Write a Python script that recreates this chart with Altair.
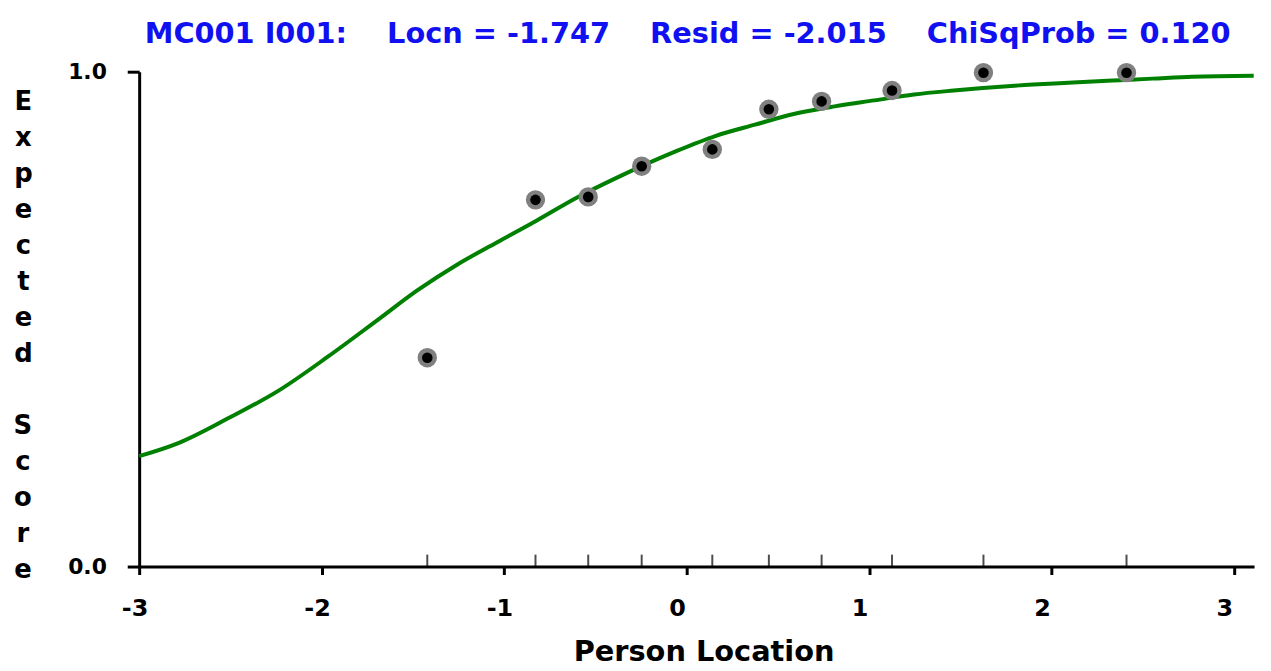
import altair as alt
import pandas as pd

# Observed class-interval means (person location, observed mean score)
obs_x = [-1.421, -0.828, -0.539, -0.246, 0.141, 0.451, 0.740, 1.126, 1.627, 2.411]
obs_y = [0.422, 0.741, 0.747, 0.809, 0.843, 0.924, 0.940, 0.962, 0.998, 0.998]

# Expected score curve
curve_x = [-3.0, -2.782, -2.51, -2.238, -1.966, -1.694, -1.476, -1.258, -1.040, -0.823,
           -0.605, -0.387, -0.060, 0.157, 0.375, 0.593, 0.811, 1.028, 1.246, 1.464,
           1.899, 2.117, 2.335, 2.553, 2.770, 3.108]
curve_y = [0.223, 0.250, 0.300, 0.355, 0.424, 0.498, 0.558, 0.610, 0.655, 0.699,
           0.745, 0.785, 0.839, 0.870, 0.893, 0.915, 0.930, 0.942, 0.954, 0.962,
           0.974, 0.978, 0.982, 0.986, 0.990, 0.992]

x_ticks = [-3, -2, -1, 0, 1, 2, 3]
y_ticks = [0, 1]
NB = "\u00a0\u00a0\u00a0\u00a0"
title_text = ["MC001 I001:" + NB + "Locn = -1.747" + NB + "Resid = -2.015" + NB + "ChiSqProb = 0.120"]
y_title_1 = list("Expected")
y_title_2 = list("Score")

obs = pd.DataFrame({"x": obs_x, "y": obs_y})
curve = pd.DataFrame({"x": curve_x, "y": curve_y})
title_df = pd.DataFrame({"t": title_text})

FONT = "DejaVu Sans"
LH = 36.3
xscale = alt.Scale(domain=[-3, 3.11], nice=False, zero=False)
yscale = alt.Scale(domain=[0, 1], nice=False, zero=False)

xaxis = alt.Axis(values=x_ticks, labelExpr="'' + datum.value", title="Person Location", grid=False,
                 domainColor="black", domainWidth=3, tickColor="black", tickWidth=3,
                 tickSize=8, labelFont=FONT, labelFontWeight="bold", labelFontSize=24,
                 labelColor="black", labelAlign="left", labelOffset=-18, labelPadding=22,
                 labelBaseline="top", titleFont=FONT, titleFontWeight="bold", titleFontSize=29,
                 titleColor="black", titlePadding=18, titleX=568, titleAlign="center")
yaxis = alt.Axis(values=y_ticks, format=".1f", title=y_title_1, grid=False,
                 domainColor="black", domainWidth=3, tickColor="black", tickWidth=3,
                 tickSize=12, labelFont=FONT, labelFontWeight="bold", labelFontSize=22,
                 labelColor="black", labelPadding=21, labelBaseline="middle",
                 titleFont=FONT, titleFontWeight="bold", titleFontSize=26, titleColor="black",
                 titleAngle=0, titleAlign="center", titleBaseline="alphabetic",
                 titleX=-117, titleY=38, titleLineHeight=LH)

line = alt.Chart(curve).mark_line(color="#008000", strokeWidth=4, interpolate="monotone").encode(
    x=alt.X("x:Q", scale=xscale, axis=xaxis),
    y=alt.Y("y:Q", scale=yscale, axis=yaxis),
)

marks_up = alt.Chart(obs).mark_tick(color="black", orient="vertical", size=12,
                                    thickness=2, yOffset=-6).encode(
    x=alt.X("x:Q", scale=xscale),
    y=alt.datum(0),
)

halo = alt.Chart(obs).mark_circle(color="#808080", opacity=1, size=380).encode(
    x=alt.X("x:Q", scale=xscale),
    y=alt.Y("y:Q", scale=yscale),
)
core = alt.Chart(obs).mark_circle(color="black", opacity=1, size=113).encode(
    x=alt.X("x:Q", scale=xscale),
    y=alt.Y("y:Q", scale=yscale),
)

title_mark = alt.Chart(title_df).mark_text(font=FONT, fontWeight="bold", fontSize=29,
                                           color="#1010f0", align="center",
                                           baseline="alphabetic").encode(
    x=alt.value(552), y=alt.value(-29), text="t:N"
)

score_mark = alt.Chart(title_df).mark_text(font=FONT, fontWeight="bold", fontSize=26,
                                           color="black", align="center",
                                           baseline="alphabetic", lineHeight=LH).encode(
    x=alt.value(-117), y=alt.value(38 + 9 * LH), text=alt.value(y_title_2)
)

chart = alt.layer(line, marks_up, halo, core, title_mark, score_mark).properties(
    width=1122,
    height=498,
    autosize=alt.AutoSizeParams(type="none"),
    padding={"left": 132, "top": 62, "right": 9, "bottom": 100},
    background="white",
).configure_view(stroke=None)

chart.save("out.html", embed_options={"renderer": "svg", "actions": False})
